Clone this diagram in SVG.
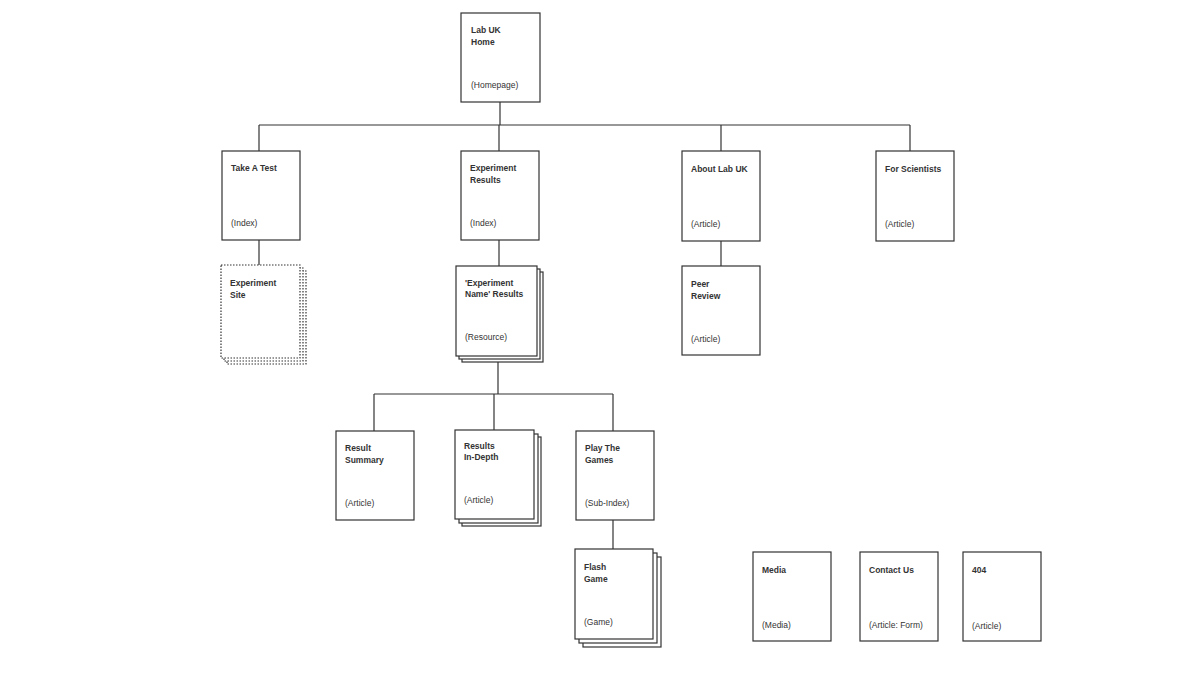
<svg xmlns="http://www.w3.org/2000/svg" width="1200" height="675" viewBox="0 0 1200 675">
<style>
rect{fill:#fff;stroke:#333;stroke-width:1.2}
.d{stroke-dasharray:1.5 1.5}
line{stroke:#333;stroke-width:1.2}
text{font-family:"Liberation Sans",Arial,sans-serif;font-size:8.5px;fill:#333}
.b{font-weight:bold}
</style>
<rect x="0" y="0" width="1200" height="675" style="stroke:none"/>
<g id="connectors">
<line x1="500" y1="102" x2="500" y2="125"/>
<line x1="259" y1="125" x2="910" y2="125"/>
<line x1="259" y1="125" x2="259" y2="151"/>
<line x1="499" y1="125" x2="499" y2="151"/>
<line x1="721" y1="125" x2="721" y2="151"/>
<line x1="910" y1="125" x2="910" y2="151"/>
<line x1="259" y1="240" x2="259" y2="265"/>
<line x1="499" y1="240" x2="499" y2="266"/>
<line x1="721" y1="241" x2="721" y2="266"/>
<line x1="498" y1="360" x2="498" y2="394"/>
<line x1="374" y1="394" x2="613" y2="394"/>
<line x1="374" y1="394" x2="374" y2="431"/>
<line x1="494" y1="394" x2="494" y2="430"/>
<line x1="613" y1="394" x2="613" y2="431"/>
<line x1="613" y1="520" x2="613" y2="549"/>
</g>
<g id="home"><rect x="461" y="13" width="79" height="89"/><text x="471" y="33" class="b">Lab UK</text><text x="471" y="45" class="b">Home</text><text x="471" y="88">(Homepage)</text></g>
<g id="take-test"><rect x="222" y="151" width="78" height="89"/><text x="231" y="171" class="b">Take A Test</text><text x="231" y="226">(Index)</text></g>
<g id="exp-results"><rect x="461" y="151" width="78" height="89"/><text x="470" y="171" class="b">Experiment</text><text x="470" y="183" class="b">Results</text><text x="470" y="226">(Index)</text></g>
<g id="about"><rect x="682" y="151" width="78" height="90"/><text x="691" y="172" class="b">About Lab UK</text><text x="691" y="227">(Article)</text></g>
<g id="scientists"><rect x="876" y="151" width="78" height="90"/><text x="885" y="172" class="b">For Scientists</text><text x="885" y="227">(Article)</text></g>
<g id="exp-site"><rect class="d" x="227" y="271" width="79" height="93"/><rect class="d" x="224" y="268" width="79" height="93"/><rect class="d" x="221" y="265" width="79" height="93"/><text x="230" y="286" class="b">Experiment</text><text x="230" y="298" class="b">Site</text></g>
<g id="exp-name"><rect x="462" y="272" width="81" height="90"/><rect x="459" y="269" width="81" height="90"/><rect x="456" y="266" width="81" height="90"/><text x="465" y="286" class="b">'Experiment</text><text x="465" y="297" class="b">Name' Results</text><text x="465" y="340">(Resource)</text></g>
<g id="peer"><rect x="682" y="266" width="78" height="89"/><text x="691" y="287" class="b">Peer</text><text x="691" y="299" class="b">Review</text><text x="691" y="342">(Article)</text></g>
<g id="summary"><rect x="336" y="431" width="78" height="89"/><text x="345" y="451" class="b">Result</text><text x="345" y="463" class="b">Summary</text><text x="345" y="506">(Article)</text></g>
<g id="indepth"><rect x="462" y="437" width="79" height="89"/><rect x="459" y="434" width="79" height="89"/><rect x="455" y="430" width="79" height="89"/><text x="464" y="449" class="b">Results</text><text x="464" y="460" class="b">In-Depth</text><text x="464" y="503">(Article)</text></g>
<g id="games"><rect x="576" y="431" width="78" height="89"/><text x="585" y="451" class="b">Play The</text><text x="585" y="463" class="b">Games</text><text x="585" y="506">(Sub-Index)</text></g>
<g id="flash"><rect x="583" y="557" width="78" height="90"/><rect x="579" y="553" width="78" height="90"/><rect x="575" y="549" width="78" height="90"/><text x="584" y="570" class="b">Flash</text><text x="584" y="582" class="b">Game</text><text x="584" y="625">(Game)</text></g>
<g id="media"><rect x="753" y="552" width="78" height="89"/><text x="762" y="573" class="b">Media</text><text x="762" y="628">(Media)</text></g>
<g id="contact"><rect x="860" y="552" width="78" height="89"/><text x="869" y="573" class="b">Contact Us</text><text x="869" y="628">(Article: Form)</text></g>
<g id="e404"><rect x="963" y="552" width="78" height="89"/><text x="972" y="573" class="b">404</text><text x="972" y="629">(Article)</text></g>
</svg>
